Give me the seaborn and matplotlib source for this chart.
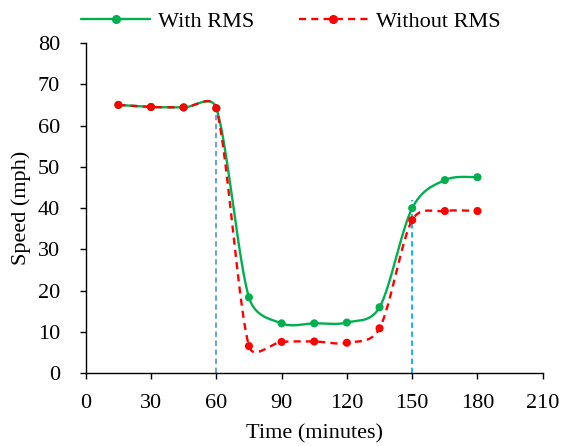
import numpy as np
import pandas as pd
import matplotlib
matplotlib.use("Agg")
import matplotlib.pyplot as plt
from matplotlib.lines import Line2D
import seaborn as sns

time_min = [15, 30, 45, 60, 75, 90, 105, 120, 135, 150, 165, 180]
with_rms = [65.0, 64.5, 64.4, 64.2, 18.4, 12.1, 12.1, 12.3, 16.0, 40.0, 46.8, 47.5]
without_rms = [65.0, 64.5, 64.4, 64.2, 6.6, 7.6, 7.7, 7.4, 10.9, 37.1, 39.3, 39.3]
marker_times = [60, 150]

GREEN = "#00B050"
RED = "#FF0000"
FS = 16


def smooth(x, y, sx=2.17, sy=4.13, n=40):
    # Excel-like smoothed line: Bezier segments, tangent = 1/6 of neighbour
    # chord, capped at half the segment length (measured in pixel space)
    P = np.column_stack([np.asarray(x, float) * sx, np.asarray(y, float) * sy])
    m = len(P)
    out = []
    for i in range(m - 1):
        p0, p1, p2, p3 = P[max(i - 1, 0)], P[i], P[i + 1], P[min(i + 2, m - 1)]
        half = np.linalg.norm(p2 - p1) / 2
        t1 = (p2 - p0) / 6
        t2 = (p3 - p1) / 6
        if np.linalg.norm(t1) > half:
            t1 *= half / np.linalg.norm(t1)
        if np.linalg.norm(t2) > half:
            t2 *= half / np.linalg.norm(t2)
        c1, c2 = p1 + t1, p2 - t2
        t = np.linspace(0, 1, n, endpoint=(i == m - 2))[:, None]
        out.append((1 - t) ** 3 * p1 + 3 * (1 - t) ** 2 * t * c1
                   + 3 * (1 - t) * t ** 2 * c2 + t ** 3 * p2)
    out = np.vstack(out)
    return out[:, 0] / sx, out[:, 1] / sy


sns.set_style("ticks")
plt.rcParams["font.family"] = ["Liberation Serif", "DejaVu Serif"]
plt.rcParams["font.size"] = FS
plt.rcParams["text.color"] = "black"
plt.rcParams["axes.labelcolor"] = "black"

fig = plt.figure(figsize=(5.65, 4.46), dpi=100)
ax = fig.add_axes([0.1517, 0.163, 0.809, 0.7406])

pts = pd.DataFrame({"time": time_min, "with": with_rms, "without": without_rms})

# guide lines at 60 and 150 minutes
ax.vlines(marker_times[0], 0, pts.loc[pts.time == marker_times[0], "with"].iloc[0],
          colors="#5B9BD5", linestyles=(0, (3, 2)), lw=1.3, zorder=1)
ax.vlines(marker_times[1], 0, pts.loc[pts.time == marker_times[1], "with"].iloc[0] + 2,
          colors="#00B0F0", linestyles=(0, (3, 2)), lw=1.3, zorder=1)

sx, sy = smooth(time_min, with_rms)
sns.lineplot(x=sx, y=sy, ax=ax, color=GREEN, lw=1.7, sort=False, zorder=2)
sns.scatterplot(data=pts, x="time", y="with", ax=ax, color=GREEN, s=34,
                edgecolor="none", zorder=3)

sx, sy = smooth(time_min, without_rms)
sns.lineplot(x=sx, y=sy, ax=ax, color=RED, lw=1.7, sort=False, zorder=4)
ax.lines[-1].set_dashes((3, 2.2))
sns.scatterplot(data=pts, x="time", y="without", ax=ax, color=RED, s=34,
                edgecolor="none", zorder=5)

ax.set_xlim(0, 210)
ax.set_ylim(0, 80)
ax.set_xticks(range(0, 211, 30))
ax.set_yticks(range(0, 81, 10))
ax.set_xlabel("Time (minutes)", fontsize=FS, labelpad=8, color="black")
ax.set_ylabel("Speed (mph)", fontsize=FS, labelpad=5, color="black")
ax.tick_params(direction="out", length=4.5, width=1, labelsize=FS, colors="black")
ax.tick_params(axis="x", pad=10.5)
ax.tick_params(axis="y", pad=14)
for side in ["left", "bottom"]:
    ax.spines[side].set_color("black")
    ax.spines[side].set_linewidth(1)
sns.despine(ax=ax)

handles = [
    Line2D([], [], color=GREEN, lw=1.7, marker="o", markersize=5.5),
    Line2D([], [], color=RED, lw=1.7, ls=(0, (3, 2.2)), marker="o", markersize=5.5),
]
fig.legend(handles, ["With RMS", "Without RMS"], loc="center",
           bbox_to_anchor=(0.515, 0.951), ncol=2, frameon=False,
           fontsize=FS, handlelength=3.1, columnspacing=2.0, handletextpad=0.36,
           labelcolor="black")

fig.savefig("out.png", dpi=100)
